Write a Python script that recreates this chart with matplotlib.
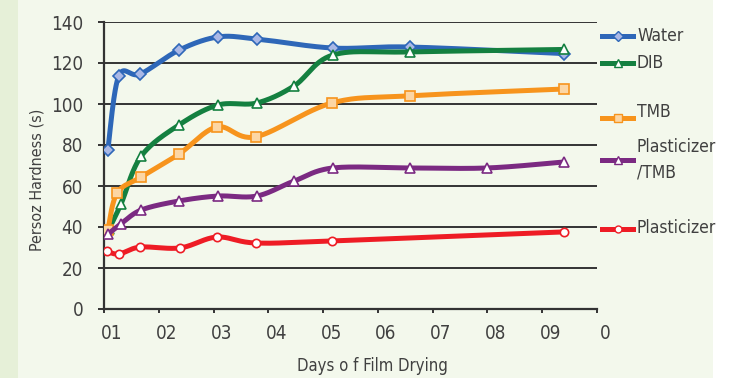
import numpy as np
import matplotlib
matplotlib.use("Agg")
import matplotlib.pyplot as plt
from matplotlib.lines import Line2D
from matplotlib.patches import Rectangle
from matplotlib.transforms import ScaledTranslation

plt.rcParams['font.family'] = ['DejaVu Sans']
plt.rcParams['font.stretch'] = 'condensed'

# days of drying and Persoz hardness values
water_x = [0.07, 0.27, 0.66, 1.37, 2.08, 2.79, 4.18, 5.58, 8.39]
water_y = [77.6, 113.7, 114.6, 126.3, 132.7, 131.7, 127.3, 127.8, 124.6]

dib_x = [0.09, 0.31, 0.68, 1.37, 2.08, 2.79, 3.47, 4.18, 5.58, 8.39]
dib_y = [39.0, 51.2, 74.6, 89.8, 99.5, 100.5, 108.8, 123.9, 125.4, 126.6]

tmb_x = [0.07, 0.24, 0.68, 1.37, 2.06, 2.77, 4.16, 5.58, 8.39]
tmb_y = [38.5, 56.6, 64.4, 75.6, 88.8, 84.0, 100.5, 104.0, 107.3]

ptmb_x = [0.07, 0.31, 0.68, 1.37, 2.08, 2.79, 3.47, 4.18, 5.58, 7.00, 8.39]
ptmb_y = [36.5, 41.5, 48.3, 52.7, 55.1, 55.1, 62.4, 68.8, 68.8, 68.8, 71.7]

plast_x = [0.05, 0.27, 0.66, 1.39, 2.06, 2.77, 4.16, 8.39]
plast_y = [28.3, 26.8, 30.2, 29.8, 35.1, 32.2, 33.2, 37.6]

x_ticks = list(range(10))
x_labels = ["01", "02", "03", "04", "05", "06", "07", "08", "09", "0"]
y_ticks = [0, 20, 40, 60, 80, 100, 120, 140]

series = [
    ("Water", water_x, water_y, "#2e67b8", "D", "#aab8e6", 6),
    ("DIB", dib_x, dib_y, "#148040", "^", "white", 7),
    ("TMB", tmb_x, tmb_y, "#f7941d", "s", "#fcd6a4", 7),
    ("Plasticizer/TMB", ptmb_x, ptmb_y, "#7b2a82", "^", "white", 7),
    ("Plasticizer", plast_x, plast_y, "#ee1c25", "o", "white", 6),
]


def smooth(x, y, n=30):
    # excel-like smoothed line (catmull-rom bezier)
    p = np.column_stack([x, y]).astype(float)
    pts = np.vstack([p[0], p, p[-1]])
    out = []
    t = np.linspace(0, 1, n)[:, None]
    for i in range(1, len(pts) - 2):
        p0, p1, p2, p3 = pts[i - 1], pts[i], pts[i + 1], pts[i + 2]
        b1 = p1 + (p2 - p0) / 6
        b2 = p2 - (p3 - p1) / 6
        seg = ((1 - t) ** 3) * p1 + 3 * ((1 - t) ** 2) * t * b1 + 3 * (1 - t) * t ** 2 * b2 + t ** 3 * p2
        out.append(seg)
    c = np.vstack(out)
    return c[:, 0], c[:, 1]


fig = plt.figure(figsize=(7.47, 3.78), dpi=100)
fig.patch.set_facecolor("white")
fig.patches.append(Rectangle((0, 0), 713 / 747, 1, transform=fig.transFigure,
                             facecolor="#f3f8ec", edgecolor="none", zorder=-10))
fig.patches.append(Rectangle((0, 0), 18 / 747, 1, transform=fig.transFigure,
                             facecolor="#e6f0d8", edgecolor="none", zorder=-9))

ax = fig.add_axes([104 / 747, 69 / 378, 493 / 747, 287 / 378])
ax.set_facecolor("none")

for name, xs, ys, col, mk, mfc, ms in series:
    sx, sy = smooth(xs, ys)
    ax.plot(sx, sy, color=col, lw=3.6, solid_capstyle="round", zorder=3)
    ax.plot(xs, ys, ls="none", marker=mk, ms=ms, mfc=mfc, mec=col, mew=1.2, zorder=3)

ax.set_xlim(0, 9)
ax.set_ylim(0, 140)
ax.set_yticks(y_ticks)
ax.set_xticks(x_ticks)
ax.set_xticklabels(x_labels)
ax.grid(axis="y", color="#333333", lw=1.4, zorder=1)
ax.set_axisbelow(True)
for s in ["top", "right"]:
    ax.spines[s].set_visible(False)
for s in ["left", "bottom"]:
    ax.spines[s].set_color("#333333")
    ax.spines[s].set_linewidth(1.6)
ax.tick_params(axis="y", length=4, width=1.4, color="#333333", pad=11,
               labelsize=13.5, labelcolor="#404040")
ax.tick_params(axis="x", length=3, width=1.4, color="#333333", pad=8,
               labelsize=13.5, labelcolor="#404040")
shift = ScaledTranslation(8 / 100, 0, fig.dpi_scale_trans)
for lab in ax.get_xticklabels():
    lab.set_transform(lab.get_transform() + shift)

ax.set_ylabel("Persoz Hardness (s)", fontsize=11.5, color="#404040",
              ha="center", va="center")
ax.yaxis.set_label_coords(-0.136, 0.449)
ax.set_xlabel("Days o f Film Drying", fontsize=12, color="#404040",
              ha="center", va="center")
ax.xaxis.set_label_coords(0.5436, -0.1986)

# legend entries placed beside the plot
legend_pos = [(36, 36), (63, 63), (118, 112), (160, 160), (229, 228)]
legend_text = ["Water", "DIB", "TMB", "Plasticizer\n/TMB", "Plasticizer"]
for (name, xs, ys, col, mk, mfc, ms), (ly, ty), txt in zip(series, legend_pos, legend_text):
    yy = 1 - ly / 378
    fig.add_artist(Line2D([602 / 747, 633 / 747], [yy, yy], transform=fig.transFigure,
                          color=col, lw=3.6))
    fig.add_artist(Line2D([618 / 747], [yy], transform=fig.transFigure, ls="none",
                          marker=mk, ms=ms - 1, mfc=mfc, mec=col, mew=1.0))
    fig.text(637 / 747, 1 - ty / 378, txt, fontsize=12.5, color="#404040",
             va="center", ha="left", linespacing=1.5)

fig.savefig("out.png", dpi=100, facecolor=fig.get_facecolor())
